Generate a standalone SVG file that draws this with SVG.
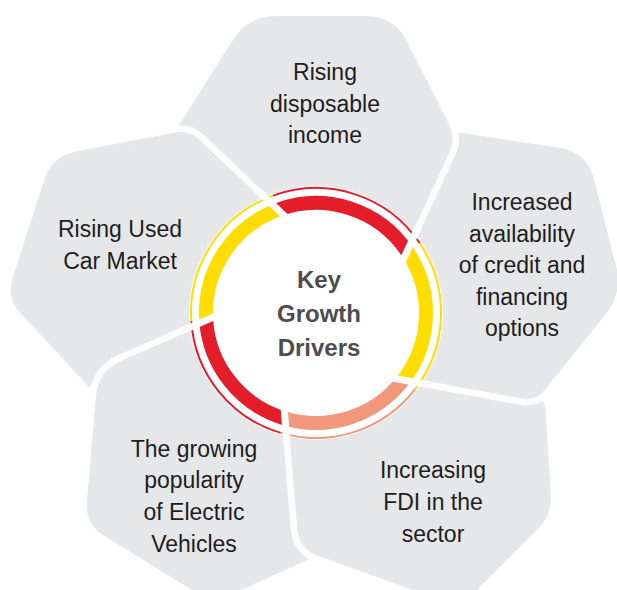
<svg xmlns="http://www.w3.org/2000/svg" xmlns:xlink="http://www.w3.org/1999/xlink" width="617" height="590" viewBox="0 0 617 590">
<defs>
<style>
.petal{fill:#E6E7E8;stroke:#FFFFFF;stroke-width:13;stroke-linejoin:round;paint-order:stroke}
.label{font-family:"Liberation Sans",Arial,sans-serif;font-size:23px;fill:#1E1E1E;text-anchor:middle}
.center-label{font-family:"Liberation Sans",Arial,sans-serif;font-size:24px;font-weight:bold;fill:#4D4D4F;text-anchor:middle}
.band{fill:none;stroke-width:14;stroke-linecap:butt}
.thin{fill:none;stroke-width:2;stroke-linecap:butt}
.red{stroke:#E31E2A}
.yellow{stroke:#FFDD00}
.salmon{stroke:#F0977C}
.gap{stroke:#FFFFFF;stroke-width:7;stroke-linecap:butt}
</style>
<clipPath id="clip-p5"><polygon points="120,95 340,95 340,300 266,300 146,155 120,140"/></clipPath>
</defs>
<rect width="617" height="590" fill="#FFFFFF"/>

<g id="petal-5">
<path id="p5-shape" class="petal" d="M 44.3,179.8 Q 52,156 76.6,151.3 L 175.2,132.6 Q 189,130 199.2,139.6 L 300,235 L 250,320 L 120,420 L 21,314.1 Q 6,298 12.8,277.1 Z"/>
<text class="label"><tspan x="120" y="237">Rising Used</tspan><tspan x="120" y="269">Car Market</tspan></text>
</g>

<g id="petal-4">
<path class="petal" d="M 240,309 L 120.9,361 Q 98,371 95.9,395.9 L 86.9,502.1 Q 85,524 103.7,535.6 L 200.2,595.1 Q 213,603 226.7,596.8 L 360,536 L 320,430 Z"/>
<text class="label"><tspan x="194" y="457">The growing</tspan><tspan x="194" y="488">popularity</tspan><tspan x="194" y="520">of Electric</tspan><tspan x="194" y="552">Vehicles</tspan></text>
</g>

<g id="petal-3">
<path class="petal" d="M 537.2,398.2 Q 545,400 545.5,408 L 550.8,495 Q 552,515 537.9,529.1 L 474.1,592.9 Q 460,607 441.2,600.2 L 317.8,555.8 Q 299,549 297.3,529.1 L 285,380 L 420,372 Z"/>
<text class="label"><tspan x="433" y="478">Increasing</tspan><tspan x="433" y="510">FDI in the</tspan><tspan x="433" y="542">sector</tspan></text>
</g>

<g id="petal-2">
<path class="petal" d="M 450,131 L 559.3,147.8 Q 587,152 593.9,179.1 L 616.1,265.9 Q 623,293 605.4,314.8 L 544.8,390.1 Q 536,401 522.2,398.5 L 410,378 L 380,300 L 400,240 L 440,150 Z"/>
<text class="label"><tspan x="522" y="210">Increased</tspan><tspan x="522" y="242">availability</tspan><tspan x="522" y="273">of credit and</tspan><tspan x="522" y="305">financing</tspan><tspan x="522" y="336">options</tspan></text>
</g>

<g id="petal-1">
<path class="petal" d="M 233,39.7 Q 248,16 276,16 L 366,16 Q 394,16 406.7,40.9 L 448.8,123.7 Q 456,138 449.3,152.5 L 380,302 L 280,300 L 160,155 Z"/>
<text class="label"><tspan x="325" y="80">Rising</tspan><tspan x="325" y="112">disposable</tspan><tspan x="325" y="143">income</tspan></text>
</g>

<g id="petal-5-overlap">
<use xlink:href="#p5-shape" href="#p5-shape" clip-path="url(#clip-p5)"/>
</g>

<g id="center">
<circle cx="316" cy="313" r="127" fill="#FFFFFF"/>
<path class="band red" d="M 278.2,209.7 A 110 110 0 0 1 407.3,251.7"/>
<path class="band yellow" d="M 407.3,251.7 A 110 110 0 0 1 403.0,380.3"/>
<path class="band salmon" d="M 403.0,380.3 A 110 110 0 0 1 284.9,418.5"/>
<path class="band red" d="M 284.9,418.5 A 110 110 0 0 1 206.2,320.1"/>
<path class="band yellow" d="M 206.2,320.1 A 110 110 0 0 1 278.2,209.7"/>
<path class="thin red" d="M 273.0,195.6 A 125 125 0 0 1 419.8,243.3"/>
<path class="thin yellow" d="M 419.8,243.3 A 125 125 0 0 1 414.9,389.4"/>
<path class="thin salmon" d="M 414.9,389.4 A 125 125 0 0 1 280.7,432.9"/>
<path class="thin red" d="M 280.7,432.9 A 125 125 0 0 1 191.3,321.1"/>
<path class="thin yellow" d="M 191.3,321.1 A 125 125 0 0 1 273.0,195.6"/>
<line class="gap" x1="256.3" y1="189.2" x2="291.8" y2="222.7"/>
<line class="gap" x1="419" y1="225.5" x2="397.4" y2="272.2"/>
<line class="gap" x1="428.7" y1="384.7" x2="380.5" y2="375.9"/>
<line class="gap" x1="287.1" y1="444.6" x2="283.3" y2="398.2"/>
<line class="gap" x1="180.3" y1="331.5" x2="222.5" y2="313.1"/>
<text class="center-label"><tspan x="319" y="288">Key</tspan><tspan x="319" y="322">Growth</tspan><tspan x="319" y="356">Drivers</tspan></text>
</g>
</svg>
